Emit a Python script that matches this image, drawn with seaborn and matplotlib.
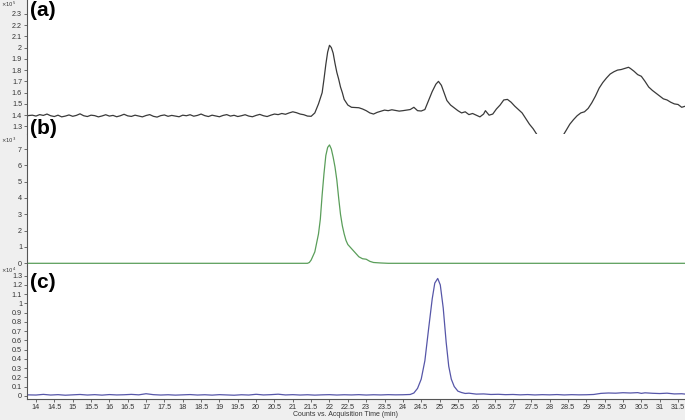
import numpy as np
import pandas as pd
import matplotlib
matplotlib.use("Agg")
import matplotlib.pyplot as plt
import seaborn as sns

# ---------------- data ----------------
time_a = [13.75, 13.9, 14.0, 14.1, 14.2, 14.3, 14.4, 14.5, 14.6, 14.7, 14.8, 14.9,
          15.0, 15.1, 15.2, 15.3, 15.4, 15.5, 15.6, 15.7, 15.8, 15.9, 16.0, 16.1,
          16.2, 16.3, 16.4, 16.5, 16.6, 16.7, 16.8, 16.9, 17.0, 17.1, 17.2, 17.3,
          17.4, 17.5, 17.6, 17.7, 17.8, 17.9, 18.0, 18.1, 18.2, 18.3, 18.4, 18.5,
          18.6, 18.7, 18.8, 18.9, 19.0, 19.1, 19.2, 19.3, 19.4, 19.5, 19.6, 19.7,
          19.8, 19.9, 20.0, 20.1, 20.2, 20.3, 20.4, 20.5, 20.6, 20.7, 20.8, 20.9,
          21.0, 21.1, 21.2, 21.3, 21.4, 21.5, 21.6, 21.7, 21.8, 21.85, 21.9, 21.95,
          22.0, 22.05, 22.1, 22.15, 22.2, 22.25, 22.3, 22.35, 22.4, 22.5, 22.6, 22.7,
          22.8, 22.9, 23.0, 23.1, 23.2, 23.3, 23.4, 23.5, 23.6, 23.7, 23.8, 23.9,
          24.0, 24.1, 24.2, 24.3, 24.4, 24.5, 24.6, 24.7, 24.8, 24.9, 24.97, 25.05,
          25.1, 25.2, 25.3, 25.4, 25.5, 25.6, 25.7, 25.8, 25.9, 26.0, 26.1, 26.2,
          26.25, 26.35, 26.45, 26.55, 26.65, 26.75, 26.85, 26.95, 27.05, 27.15, 27.25, 27.35,
          27.45, 27.55, 27.65, 27.8, 28.0, 28.2, 28.35, 28.45, 28.55, 28.65, 28.75, 28.85,
          28.95, 29.05, 29.15, 29.25, 29.35, 29.45, 29.55, 29.65, 29.75, 29.85, 29.95, 30.05,
          30.15, 30.2, 30.3, 30.4, 30.5, 30.6, 30.7, 30.8, 30.9, 31.0, 31.1, 31.2,
          31.3, 31.4, 31.5, 31.6, 31.7]
counts_a = [1.395, 1.400, 1.392, 1.405, 1.398, 1.410, 1.395, 1.388, 1.400, 1.385, 1.392, 1.402,
            1.390, 1.398, 1.412, 1.395, 1.388, 1.400, 1.396, 1.385, 1.393, 1.404, 1.392, 1.398,
            1.386, 1.395, 1.408, 1.394, 1.389, 1.400, 1.392, 1.385, 1.397, 1.405, 1.390, 1.383,
            1.396, 1.402, 1.390, 1.398, 1.392, 1.386, 1.400, 1.395, 1.404, 1.391, 1.398, 1.410,
            1.396, 1.388, 1.400, 1.393, 1.386, 1.398, 1.405, 1.392, 1.399, 1.388, 1.395, 1.404,
            1.392, 1.386, 1.398, 1.407, 1.395, 1.388, 1.400, 1.410, 1.405, 1.415, 1.408, 1.420,
            1.430, 1.422, 1.410, 1.404, 1.392, 1.390, 1.420, 1.500, 1.600, 1.720, 1.850, 1.960,
            2.020, 2.000, 1.950, 1.860, 1.780, 1.720, 1.650, 1.600, 1.540, 1.490, 1.470, 1.468,
            1.466, 1.455, 1.440, 1.420, 1.410, 1.425, 1.435, 1.445, 1.440, 1.448, 1.442, 1.436,
            1.440, 1.445, 1.450, 1.470, 1.440, 1.437, 1.450, 1.530, 1.610, 1.675, 1.700, 1.665,
            1.620, 1.530, 1.490, 1.465, 1.440, 1.420, 1.430, 1.405, 1.415, 1.400, 1.385, 1.410,
            1.440, 1.400, 1.410, 1.455, 1.490, 1.535, 1.540, 1.515, 1.480, 1.450, 1.420, 1.370,
            1.320, 1.280, 1.230, 1.160, 1.100, 1.130, 1.210, 1.265, 1.320, 1.360, 1.395, 1.420,
            1.430, 1.460, 1.510, 1.570, 1.640, 1.690, 1.730, 1.765, 1.785, 1.800, 1.805, 1.815,
            1.825, 1.815, 1.790, 1.760, 1.745, 1.700, 1.650, 1.620, 1.595, 1.570, 1.545, 1.535,
            1.515, 1.500, 1.495, 1.470, 1.480]

time_b = [13.75, 15.0, 16.5, 18.0, 19.5, 21.0, 21.4, 21.45, 21.5, 21.6, 21.7, 21.75,
          21.8, 21.85, 21.9, 21.95, 22.0, 22.05, 22.1, 22.15, 22.2, 22.25, 22.3, 22.35,
          22.4, 22.45, 22.5, 22.6, 22.7, 22.8, 22.9, 23.0, 23.1, 23.2, 23.4, 23.6,
          25.0, 27.0, 29.0, 31.7]
counts_b = [0.0, 0.0, 0.0, 0.0, 0.0, 0.0, 0.0, 0.05, 0.2, 0.7, 1.8, 2.7,
            4.2, 5.5, 6.6, 7.1, 7.25, 7.0, 6.5, 5.9, 5.1, 4.0, 3.0, 2.3,
            1.8, 1.4, 1.15, 0.9, 0.65, 0.4, 0.28, 0.25, 0.12, 0.05, 0.02, 0.0,
            0.0, 0.0, 0.0, 0.0]

time_c = [13.75, 14.0, 14.2, 14.4, 14.6, 14.8, 15.0, 15.2, 15.4, 15.6, 15.8, 16.0,
          16.2, 16.4, 16.6, 16.8, 17.0, 17.2, 17.4, 17.6, 17.8, 18.0, 18.2, 18.4,
          18.6, 18.8, 19.0, 19.2, 19.4, 19.6, 19.8, 20.0, 20.2, 20.4, 20.6, 20.8,
          21.0, 21.2, 21.4, 21.6, 21.8, 22.0, 22.2, 22.4, 22.6, 22.8, 23.0, 23.2,
          23.4, 23.6, 23.8, 24.0, 24.2, 24.3, 24.4, 24.5, 24.6, 24.7, 24.8, 24.87,
          24.95, 25.02, 25.1, 25.18, 25.25, 25.32, 25.4, 25.5, 25.6, 25.7, 25.8, 26.0,
          26.2, 26.4, 26.6, 26.8, 27.0, 27.2, 27.4, 27.6, 27.8, 28.0, 28.2, 28.4,
          28.6, 28.8, 29.0, 29.2, 29.4, 29.6, 29.8, 30.0, 30.2, 30.4, 30.5, 30.6,
          30.8, 31.0, 31.2, 31.4, 31.6, 31.7]
counts_c = [0.010, 0.008, 0.015, 0.008, 0.012, 0.006, 0.010, 0.014, 0.008, 0.012, 0.007, 0.013,
            0.009, 0.011, 0.015, 0.010, 0.022, 0.012, 0.008, 0.011, 0.007, 0.010, 0.013, 0.008,
            0.011, 0.007, 0.012, 0.009, 0.006, 0.011, 0.008, 0.016, 0.009, 0.012, 0.017, 0.009,
            0.012, 0.008, 0.011, 0.007, 0.010, 0.012, 0.008, 0.011, 0.009, 0.012, 0.008, 0.011,
            0.009, 0.012, 0.010, 0.011, 0.014, 0.030, 0.080, 0.180, 0.380, 0.720, 1.050, 1.220,
            1.270, 1.200, 0.950, 0.580, 0.320, 0.180, 0.100, 0.050, 0.035, 0.025, 0.028, 0.018,
            0.020, 0.014, 0.016, 0.012, 0.014, 0.010, 0.013, 0.009, 0.012, 0.010, 0.013, 0.009,
            0.012, 0.010, 0.011, 0.014, 0.026, 0.030, 0.028, 0.033, 0.030, 0.034, 0.026, 0.032,
            0.027, 0.024, 0.028, 0.020, 0.022, 0.018]

x_ticks = [14 + 0.5 * i for i in range(36)]
y_ticks_a = [1.3, 1.4, 1.5, 1.6, 1.7, 1.8, 1.9, 2.0, 2.1, 2.2, 2.3]
y_ticks_b = [0, 1, 2, 3, 4, 5, 6, 7]
y_ticks_c = [0, 0.1, 0.2, 0.3, 0.4, 0.5, 0.6, 0.7, 0.8, 0.9, 1.0, 1.1, 1.2, 1.3]
panel_labels = ["(a)", "(b)", "(c)"]
exponents = ["5", "3", "4"]
x_label = "Counts vs. Acquisition Time (min)"

# ---------------- plot ----------------
sns.set_style("white")
plt.rcParams["font.family"] = ["Liberation Sans", "DejaVu Sans"]

W, H = 685, 420
fig = plt.figure(figsize=(W / 100, H / 100), dpi=100, facecolor="#efefef")

def fmt(v):
    return f"{v:.1f}".rstrip("0").rstrip(".")

left = 27 / W
rows = [(0, 134), (134, 266), (266, 399)]
ylims = [(1.233, 2.422), (-0.165, 7.92), (-0.035, 1.405)]
datasets = [(time_a, counts_a, "#3a3a3a", y_ticks_a),
            (time_b, counts_b, "#5a9e5a", y_ticks_b),
            (time_c, counts_c, "#5656a8", y_ticks_c)]

for i, ((top, bot), yl, (t, c, col, yt)) in enumerate(zip(rows, ylims, datasets)):
    ax = fig.add_axes([left, 1 - bot / H, 1 - left, (bot - top) / H])
    ax.set_facecolor("white")
    df = pd.DataFrame({"time": t, "counts": c})
    sns.lineplot(data=df, x="time", y="counts", ax=ax, color=col, lw=0.9,
                 estimator=None, sort=False)
    ax.set_xlim(13.755, 31.69)
    ax.set_ylim(*yl)
    ax.set_yticks(yt)
    ax.set_yticklabels([fmt(v) for v in yt])
    ax.set_xlabel("")
    ax.set_ylabel("")
    for s in ["top", "right", "bottom"]:
        ax.spines[s].set_visible(False)
    ax.spines["left"].set_color("#555555")
    ax.spines["left"].set_linewidth(0.8)
    ax.tick_params(axis="y", direction="out", length=2.5, width=0.6, color="#555555",
                   labelsize=5.2, labelcolor="#333333", pad=1, left=True)
    if i < 2:
        ax.set_xticks([])
    else:
        ax.spines["bottom"].set_visible(True)
        ax.spines["bottom"].set_color("#555555")
        ax.spines["bottom"].set_linewidth(0.8)
        ax.set_xticks(x_ticks)
        ax.set_xticklabels([fmt(v) for v in x_ticks])
        ax.tick_params(axis="x", direction="out", length=2.5, width=0.6, color="#555555",
                       labelsize=5.2, labelcolor="#333333", pad=1, bottom=True)

# exponent labels
exp_y = [4, 140, 270]
for e, yy in zip(exponents, exp_y):
    fig.text(1 / W, 1 - yy / H, r"$\times10^{%s}$" % e, fontsize=3.8, color="#333333",
             ha="left", va="center")

# panel labels
lab_y = [11, 128, 283]
for lab, yy in zip(panel_labels, lab_y):
    fig.text(30 / W, 1 - yy / H, lab, fontsize=15, fontweight="bold", color="black",
             ha="left", va="center")

fig.text(345 / W, 1 - 414.5 / H, x_label, fontsize=5, color="#333333",
         ha="center", va="center")

fig.savefig("out.png", dpi=100, facecolor=fig.get_facecolor())
